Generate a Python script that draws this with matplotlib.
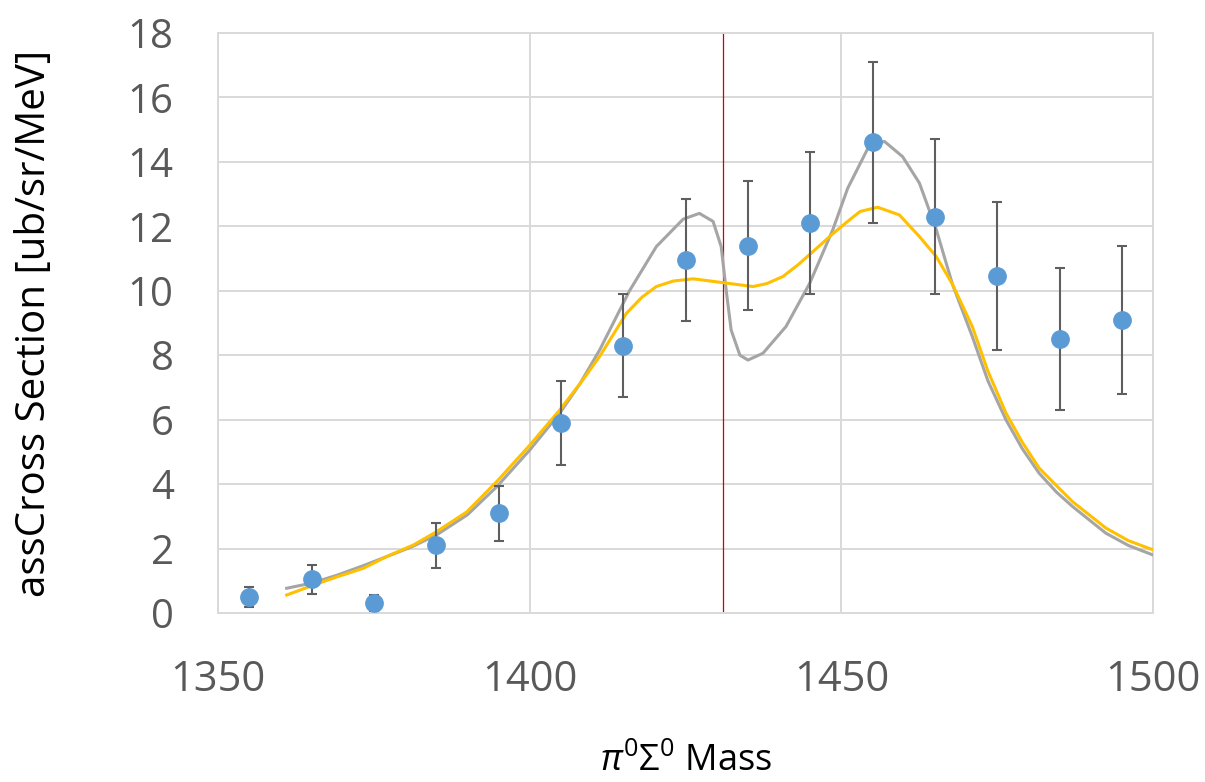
import numpy as np
import matplotlib.pyplot as plt

plt.rcParams['font.family'] = ['Open Sans', 'DejaVu Sans']
plt.rcParams['mathtext.fontset'] = 'custom'
plt.rcParams['mathtext.rm'] = 'Open Sans'
plt.rcParams['mathtext.it'] = 'Open Sans:italic'

# measured points
mass = [1355, 1365, 1375, 1385, 1395, 1405, 1415, 1425, 1435, 1445, 1455, 1465, 1475, 1485, 1495]
xsec = [0.5, 1.05, 0.3, 2.1, 3.1, 5.9, 8.3, 10.95, 11.4, 12.1, 14.6, 12.3, 10.45, 8.5, 9.1]
err = [0.3, 0.45, 0.25, 0.7, 0.85, 1.3, 1.6, 1.9, 2.0, 2.2, 2.5, 2.4, 2.3, 2.2, 2.3]

# gray fit curve
gray_m = [1361, 1365, 1369, 1373, 1377, 1381, 1385, 1390, 1394.7, 1400, 1404.8, 1408,
          1411.2, 1416, 1420.3, 1424.6, 1427.2, 1429.4, 1430.7, 1431.5, 1432.3, 1433.7,
          1435, 1437.4, 1441.1, 1444.9, 1448.6, 1451, 1454.5, 1456.9, 1459.8, 1462.5,
          1465.2, 1467.8, 1471, 1473.5, 1476.4, 1479, 1481.7, 1484.5, 1487.1, 1492.4,
          1496, 1500]
gray_v = [0.77, 0.93, 1.17, 1.45, 1.75, 2.05, 2.42, 3.05, 3.92, 5.06, 6.2, 7.1,
          8.16, 10.0, 11.37, 12.22, 12.4, 12.15, 11.37, 10.02, 8.78, 8.0,
          7.85, 8.06, 8.89, 10.23, 11.89, 13.18, 14.52, 14.63, 14.16, 13.34,
          11.9, 10.2, 8.57, 7.2, 5.99, 5.1, 4.34, 3.75, 3.3, 2.48,
          2.1, 1.8]

# yellow fit curve
yel_m = [1361, 1365.3, 1369, 1373.3, 1377, 1381.3, 1385, 1389.9, 1394.7, 1400, 1404.8,
         1408.5, 1411.2, 1415.5, 1418, 1420.3, 1423, 1426.2, 1431, 1435.8, 1438, 1440.6,
         1443, 1445.4, 1448.5, 1451.3, 1453, 1455.8, 1459.3, 1462.5, 1465.2, 1467.8,
         1471, 1473.5, 1476.4, 1479, 1481.7, 1484.5, 1487.1, 1492.4, 1496, 1500]
yel_v = [0.56, 0.87, 1.12, 1.39, 1.75, 2.11, 2.52, 3.14, 4.08, 5.21, 6.3,
         7.23, 7.96, 9.3, 9.8, 10.13, 10.3, 10.37, 10.25, 10.13, 10.22, 10.44,
         10.8, 11.21, 11.75, 12.2, 12.46, 12.59, 12.35, 11.68, 11.06, 10.2,
         8.88, 7.5, 6.2, 5.3, 4.5, 3.95, 3.45, 2.64, 2.25, 1.96]

marker_line = 1431

fig = plt.figure(figsize=(12.05, 7.82), dpi=100)
ax = fig.add_axes([0.181, 0.216, 0.776, 0.742])

ax.plot(gray_m, gray_v, color='#A5A5A5', lw=2.2, zorder=3)
ax.plot(yel_m, yel_v, color='#FFC000', lw=2.2, zorder=4)
ax.errorbar(mass, xsec, yerr=err, fmt='o', color='#5B9BD5', ms=12.5,
            ecolor='#5F5F5F', elinewidth=1.5, capsize=3.6, capthick=1.5, zorder=5)
ax.axvline(marker_line, color='#D00000', lw=0.9, zorder=2)

ax.set_xlim(1350, 1500)
ax.set_ylim(0, 18)
ax.set_xticks([1350, 1400, 1450, 1500])
ax.set_yticks(np.arange(0, 19, 2))
ax.grid(True, color='#D9D9D9', lw=1.4)
ax.set_axisbelow(True)
for s in ax.spines.values():
    s.set_color('#D9D9D9')
    s.set_linewidth(1.4)
ax.tick_params(length=0, colors='#595959')
ax.tick_params(axis='x', labelsize=30, pad=33)
ax.tick_params(axis='y', labelsize=29, pad=32)

ax.set_xlabel(r'$\pi^{0}\Sigma^{0}$ Mass', fontsize=26, labelpad=31)
ax.set_ylabel('assCross Section [ub/sr/MeV]', fontsize=29, labelpad=52)

fig.savefig('out.png', dpi=100)
